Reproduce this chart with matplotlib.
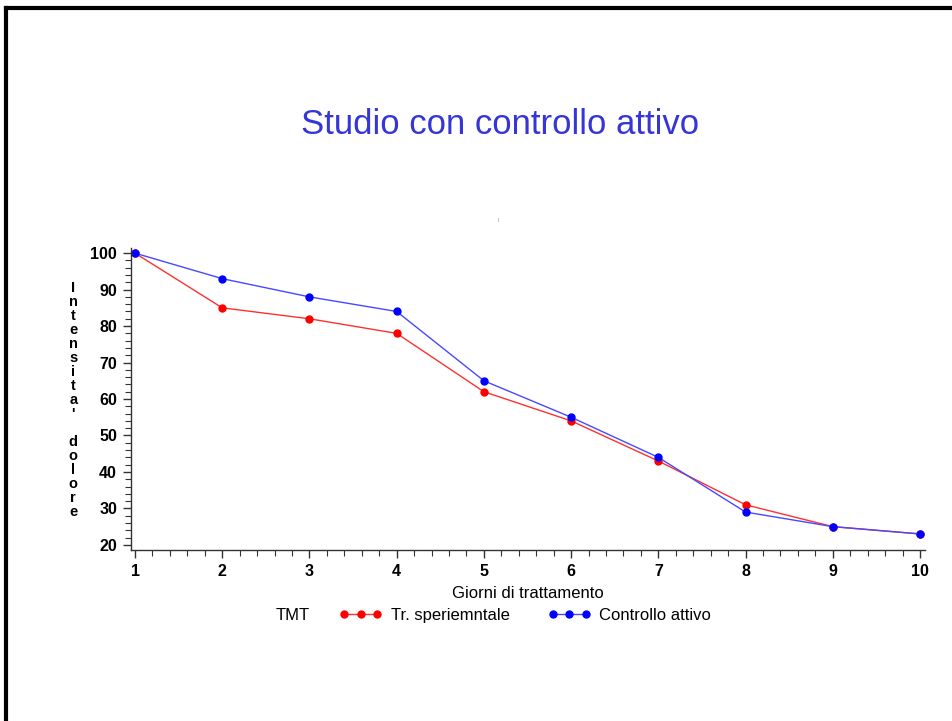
#!/usr/bin/env python

import matplotlib
matplotlib.use('Agg')
import matplotlib.pyplot as plt
from matplotlib.lines import Line2D
from matplotlib.ticker import MultipleLocator

plt.rcParams['font.family'] = ['Liberation Sans', 'DejaVu Sans']

giorni = [1, 2, 3, 4, 5, 6, 7, 8, 9, 10]
sperimentale = [100, 85, 82, 78, 62, 54, 43, 31, 25, 23]
controllo = [100, 93, 88, 84, 65, 55, 44, 29, 25, 23]
y_ticks = [20, 30, 40, 50, 60, 70, 80, 90, 100]

TITOLO = 'Studio con controllo attivo'
ETICHETTA_Y = "Intensita' dolore"


def crea_grafico():
    fig = plt.figure(figsize=(9.52, 7.21), dpi=100)

    # cornice nera in alto e a sinistra
    fig.add_artist(Line2D([0.006, 1.0], [0.989, 0.989], color='black', lw=3))
    fig.add_artist(Line2D([0.0063, 0.0063], [0.0, 0.989], color='black', lw=3))

    fig.text(0.525, 0.828, TITOLO, color='#3535d8', fontsize=25,
             ha='center', va='center')
    fig.text(0.523, 0.695, '|', color='#666666', fontsize=3,
             ha='center', va='center')

    ax = fig.add_axes([0.1376, 0.2372, 0.834, 0.4188])
    ax.plot(giorni, sperimentale, color='#ff3030', lw=1, marker='o',
            markersize=5, markerfacecolor='red', markeredgecolor='red',
            label='Tr. speriemntale')
    ax.plot(giorni, controllo, color='#4848ff', lw=1, marker='o',
            markersize=5, markerfacecolor='blue', markeredgecolor='blue',
            label='Controllo attivo')

    ax.set_xlim(0.954, 10.057)
    ax.set_ylim(18.6, 101.4)
    ax.set_xticks(giorni)
    ax.set_yticks(y_ticks)
    ax.xaxis.set_minor_locator(MultipleLocator(0.2))
    ax.yaxis.set_minor_locator(MultipleLocator(2))
    for lato in ('top', 'right'):
        ax.spines[lato].set_visible(False)
    for lato in ('left', 'bottom'):
        ax.spines[lato].set_color('#333333')
        ax.spines[lato].set_linewidth(1)
    ax.tick_params(which='major', length=6, width=1, color='#333333',
                   labelsize=11.5, pad=4)
    ax.tick_params(which='minor', length=4, width=0.8, color='#333333')
    for lab in ax.get_xticklabels() + ax.get_yticklabels():
        lab.set_fontweight('bold')

    ax.set_xlabel('Giorni di trattamento', fontsize=12, labelpad=5)

    # etichetta verticale a lettere sovrapposte
    fig.text(0.077, 0.445, '\n'.join(ETICHETTA_Y), fontsize=10.5,
             fontweight='bold', ha='center', va='center', linespacing=1.0)

    fig.text(0.29, 0.146, 'TMT', fontsize=12, ha='left', va='center')
    fig.legend(loc='center left', bbox_to_anchor=(0.356, 0.146), ncol=2,
               frameon=False, numpoints=3, handlelength=2.6,
               handletextpad=0.5, columnspacing=2.3, fontsize=12,
               borderaxespad=0, borderpad=0)

    fig.savefig('out.png', dpi=100)


if __name__ == "__main__":
    crea_grafico()
